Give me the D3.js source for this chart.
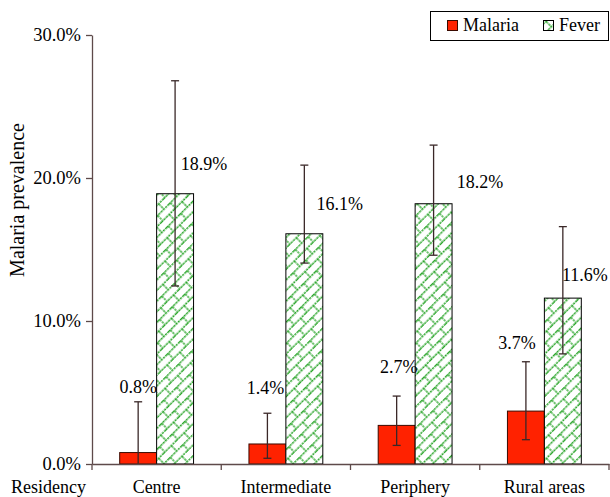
<!DOCTYPE html>
<html>
<head>
<meta charset="utf-8">
<script src="https://cdn.jsdelivr.net/npm/d3@7"></script>
<style>
  html, body { margin: 0; padding: 0; background: #fff; }
  svg { display: block; }
</style>
</head>
<body>
<svg id="chart" width="610" height="497"></svg>
<script>
// ---- data ----
const categories = ["Centre", "Intermediate", "Periphery", "Rural areas"];
const seriesNames = ["Malaria", "Fever"];
const malaria = [0.8, 1.4, 2.7, 3.7];
const fever = [18.9, 16.1, 18.2, 11.6];
const malariaLow = [0, 0.4, 1.3, 1.7];
const malariaHigh = [4.35, 3.55, 4.75, 7.15];
const feverLow = [12.45, 14.05, 14.6, 7.7];
const feverHigh = [26.8, 20.9, 22.3, 16.6];
const yTicks = [0, 10, 20, 30];
const yTitle = "Malaria prevalence";
const xTitle = "Residency";

// ---- layout (not data) ----
const labelNudge = {
  Malaria: [[0, -60], [-2, -50], [2, -52], [-9, -62]],
  Fever: [[29, -24], [35.5, -24], [46.5, -16], [22, -17]]
};
const FONT = '"Liberation Serif"';

const svg = d3.select("#chart");
const x0 = 92, x1 = 609, yTop = 35, yBottom = 464;

const x = d3.scaleBand().domain(categories).range([x0, x1]).padding(0);
const xs = d3.scaleBand().domain(seriesNames).range([0, x.bandwidth()])
  .paddingInner(0).paddingOuter(0.75);
const y = d3.scaleLinear().domain([0, 30]).range([yBottom, yTop]);

const rows = categories.map((c, i) => ({
  cat: c,
  Malaria: { v: malaria[i], lo: malariaLow[i], hi: malariaHigh[i], n: labelNudge.Malaria[i] },
  Fever: { v: fever[i], lo: feverLow[i], hi: feverHigh[i], n: labelNudge.Fever[i] }
}));

// diagonal brick pattern
const defs = svg.append("defs");
const pat = defs.append("pattern")
  .attr("id", "brick")
  .attr("patternUnits", "userSpaceOnUse")
  .attr("width", 18).attr("height", 15)
  .attr("patternTransform", "rotate(-45)");
pat.append("rect").attr("width", 18).attr("height", 15).attr("fill", "#fff");
const pg = pat.append("g").attr("stroke", "#2aa52a").attr("stroke-width", 1.35).attr("fill", "none")
  .attr("stroke-dasharray", "2.4,0.8");
pg.append("line").attr("x1", 0).attr("x2", 18).attr("y1", 3.75).attr("y2", 3.75);
pg.append("line").attr("x1", 0).attr("x2", 18).attr("y1", 11.25).attr("y2", 11.25);
pg.append("line").attr("x1", 2).attr("x2", 2).attr("y1", 3.75).attr("y2", 11.25);
pg.append("line").attr("x1", 11).attr("x2", 11).attr("y1", 11.25).attr("y2", 15);
pg.append("line").attr("x1", 11).attr("x2", 11).attr("y1", 0).attr("y2", 3.75);

const fills = { Malaria: "#ff2200", Fever: "url(#brick)" };
const strokes = { Malaria: "#3a0a00", Fever: "#000" };
const errColor = "#3a2828";
const axisColor = "#5e4a4a";

// bars
const groups = svg.append("g").selectAll("g").data(rows).join("g")
  .attr("transform", d => `translate(${x(d.cat)},0)`);

seriesNames.forEach(s => {
  groups.append("rect")
    .attr("x", xs(s))
    .attr("y", d => y(d[s].v))
    .attr("width", xs.bandwidth())
    .attr("height", d => y(0) - y(d[s].v))
    .attr("fill", fills[s])
    .attr("stroke", strokes[s])
    .attr("stroke-width", 1);
});

// error bars
seriesNames.forEach(s => {
  const cx = xs(s) + xs.bandwidth() / 2;
  groups.append("line")
    .attr("x1", cx).attr("x2", cx)
    .attr("y1", d => y(d[s].hi)).attr("y2", d => y(d[s].lo))
    .attr("stroke", errColor).attr("stroke-width", 1.3);
  groups.append("line")
    .attr("x1", cx - 4).attr("x2", cx + 4)
    .attr("y1", d => y(d[s].hi)).attr("y2", d => y(d[s].hi))
    .attr("stroke", errColor).attr("stroke-width", 1.3);
  groups.filter(d => d[s].lo > 0).append("line")
    .attr("x1", cx - 4).attr("x2", cx + 4)
    .attr("y1", d => y(d[s].lo)).attr("y2", d => y(d[s].lo))
    .attr("stroke", errColor).attr("stroke-width", 1.3);
});

// value labels
seriesNames.forEach(s => {
  const cx = xs(s) + xs.bandwidth() / 2;
  groups.append("text")
    .attr("x", d => cx + d[s].n[0])
    .attr("y", d => y(d[s].v) + d[s].n[1])
    .attr("text-anchor", "middle")
    .style("font-family", FONT)
    .style("font-size", "18px")
    .attr("fill", "#000")
    .text(d => d[s].v.toFixed(1) + "%");
});

// y axis
const yAxis = svg.append("g")
  .attr("transform", `translate(${x0},0)`)
  .call(d3.axisLeft(y).tickValues(yTicks).tickSize(6).tickSizeOuter(0).tickPadding(5)
    .tickFormat(d => d.toFixed(1) + "%"));
yAxis.select(".domain").attr("stroke", axisColor).attr("stroke-width", 1.3);
yAxis.selectAll(".tick line").attr("stroke", axisColor).attr("stroke-width", 1.3);
yAxis.selectAll(".tick text")
  .style("font-family", FONT).style("font-size", "18.5px").attr("fill", "#000");

// x axis
const xAxis = svg.append("g")
  .attr("transform", `translate(0,${yBottom})`)
  .call(d3.axisBottom(x).tickSize(0).tickSizeOuter(0).tickFormat(""));
xAxis.select(".domain").attr("stroke", axisColor).attr("stroke-width", 1.3);
const bounds = categories.map(c => x(c)).concat([x.range()[1]]);
xAxis.selectAll(".bound").data(bounds).join("line")
  .attr("class", "bound")
  .attr("x1", d => d).attr("x2", d => d)
  .attr("y1", 0).attr("y2", 6)
  .attr("stroke", axisColor).attr("stroke-width", 1.3);

// category labels
svg.append("g").selectAll("text").data(categories).join("text")
  .attr("x", d => x(d) + x.bandwidth() / 2)
  .attr("y", 493)
  .attr("text-anchor", "middle")
  .style("font-family", FONT).style("font-size", "18px")
  .text(d => d);

svg.append("text").attr("x", 11).attr("y", 493)
  .style("font-family", FONT).style("font-size", "18px").text(xTitle);

svg.append("text")
  .attr("transform", "translate(24,200) rotate(-90)")
  .attr("text-anchor", "middle")
  .style("font-family", FONT).style("font-size", "20px")
  .text(yTitle);

// legend
const lg = svg.append("g");
lg.append("rect").attr("x", 430.5).attr("y", 11.5).attr("width", 178).attr("height", 29)
  .attr("fill", "#fff").attr("stroke", "#000").attr("stroke-width", 1);
const legendX = { Malaria: 447, Fever: 543 };
seriesNames.forEach(s => {
  lg.append("rect").attr("x", legendX[s] + 0.5).attr("y", 20.5).attr("width", 10).attr("height", 10)
    .attr("fill", fills[s]).attr("stroke", strokes[s]).attr("stroke-width", 1);
  lg.append("text").attr("x", legendX[s] + 16).attr("y", 31)
    .style("font-family", FONT).style("font-size", "18px").text(s);
});
</script>
</body>
</html>
